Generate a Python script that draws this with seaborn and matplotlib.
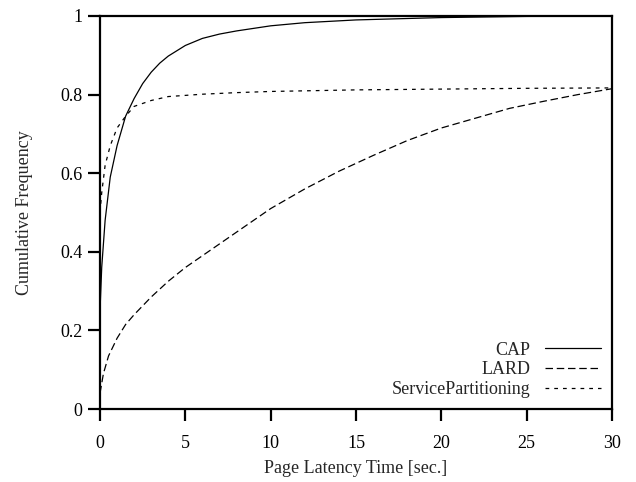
import numpy as np
import pandas as pd
import matplotlib
matplotlib.use('Agg')
import matplotlib.pyplot as plt
import seaborn as sns

# values (latency in seconds, cumulative fraction)
cap_x = [0, 0.1, 0.3, 0.6, 1.0, 1.5, 2.0, 2.5, 3.0, 3.5, 4.0, 5.0, 6.0, 7.0, 8.0, 10.0, 12.0, 15.0, 20.0, 25.0, 30.0]
cap_y = [0.25, 0.36, 0.48, 0.59, 0.67, 0.745, 0.79, 0.828, 0.857, 0.880, 0.898, 0.925, 0.943, 0.954, 0.962, 0.975, 0.983, 0.990, 0.996, 0.999, 1.0]

lard_x = [0, 0.2, 0.5, 1.0, 1.5, 2.0, 3.0, 4.0, 5.0, 6.0, 8.0, 10.0, 12.0, 14.0, 16.0, 18.0, 20.0, 22.0, 24.0, 26.0, 28.0, 30.0]
lard_y = [0.04, 0.09, 0.135, 0.18, 0.215, 0.24, 0.285, 0.325, 0.36, 0.39, 0.45, 0.51, 0.56, 0.605, 0.645, 0.683, 0.715, 0.74, 0.765, 0.783, 0.80, 0.815]

sp_x = [0, 0.1, 0.3, 0.6, 1.0, 1.5, 2.0, 3.0, 4.0, 6.0, 8.0, 10.0, 15.0, 20.0, 25.0, 30.0]
sp_y = [0.50, 0.55, 0.62, 0.67, 0.715, 0.745, 0.77, 0.785, 0.795, 0.801, 0.805, 0.808, 0.812, 0.814, 0.816, 0.817]

series_names = ['CAP', 'LARD', 'ServicePartitioning']
x_ticks = [0, 5, 10, 15, 20, 25, 30]
y_ticks = [0, 0.2, 0.4, 0.6, 0.8, 1.0]
y_tick_labels = ['0', '0.2', '0.4', '0.6', '0.8', '1']

sns.set_style('white')
plt.rcParams['font.family'] = ['Liberation Serif', 'DejaVu Serif']
plt.rcParams['font.size'] = 13

df = pd.concat([
    pd.DataFrame({'x': cap_x, 'y': cap_y, 'series': series_names[0]}),
    pd.DataFrame({'x': lard_x, 'y': lard_y, 'series': series_names[1]}),
    pd.DataFrame({'x': sp_x, 'y': sp_y, 'series': series_names[2]}),
])

fig = plt.figure(figsize=(6.36, 4.82), dpi=100)
ax = fig.add_axes([100 / 636, 73 / 482, 512 / 636, 393 / 482])

sns.lineplot(data=df, x='x', y='y', hue='series', style='series',
             palette=['black'] * 3,
             dashes={'CAP': '', 'LARD': (6, 3), 'ServicePartitioning': (3, 4)},
             linewidth=0.9, ax=ax, sort=False)

ax.set_xlim(0, 30)
ax.set_ylim(0, 1)
ax.set_xticks(x_ticks)
ax.set_yticks(y_ticks)
ax.set_yticklabels(y_tick_labels)
ax.set_xlabel('Page Latency Time [sec.]', fontsize=13, labelpad=6)
ax.set_ylabel('Cumulative Frequency', fontsize=13, labelpad=20)

for s in ax.spines.values():
    s.set_linewidth(1.6)
    s.set_color('black')
ax.tick_params(axis='both', which='major', direction='out', length=8.5, width=1.6,
               colors='black', labelsize=13, bottom=True, left=True,
               top=False, right=False)
ax.tick_params(axis='x', pad=10)
ax.tick_params(axis='y', pad=4)
ax.grid(False)

leg = ax.legend(loc='lower right', frameon=False, markerfirst=False,
                handlelength=3.1, handletextpad=0.8, labelspacing=0.15,
                borderaxespad=0.4, borderpad=0.2, fontsize=13)
for line in leg.get_lines():
    line.set_linewidth(0.9)

plt.savefig('out.png', dpi=100)
